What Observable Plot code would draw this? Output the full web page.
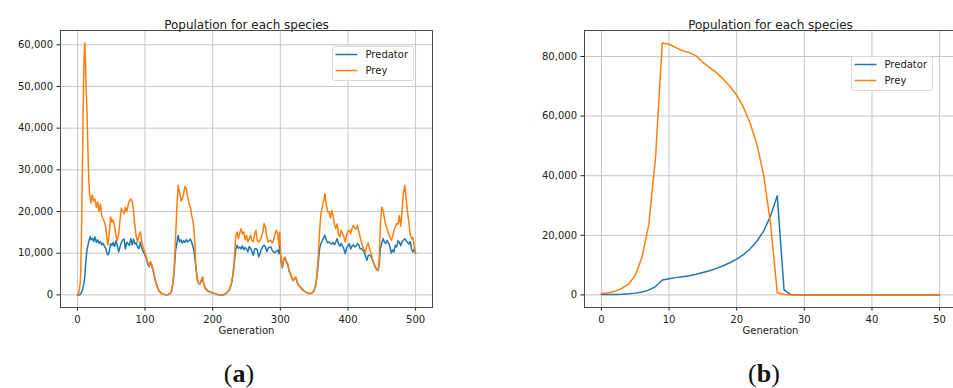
<!DOCTYPE html>
<html><head><meta charset="utf-8">
<script src="https://cdn.jsdelivr.net/npm/d3@7"></script>
<script src="https://cdn.jsdelivr.net/npm/@observablehq/plot@0.6"></script>
<style>
body{margin:0;overflow:hidden;background:#fff;font-family:"DejaVu Sans",sans-serif;}
#wrap{position:relative;width:953px;height:388px;overflow:hidden;background:#fff;}
.panel{position:absolute;top:0;}
.legend{position:absolute;}
.cap{position:absolute;width:80px;text-align:center;font-family:"Liberation Serif","Times New Roman",serif;font-size:26px;line-height:26px;color:#111;}
</style></head><body><div id="wrap"></div>
<script>
const seriesNames = ["Predator", "Prey"];
const seriesColors = ["#1f77b4", "#ff7f0e"];
const chartTitle = "Population for each species";
const xLabel = "Generation";
const captions = ["a", "b"];

// Panel (a)
const genA = [
  0,2,4,5,6,7,8,9,10,11,
  12,13,14,15,16,17,18,19,20,22,
  24,26,28,30,32,34,36,38,40,42,
  44,45,47,49,51,53,55,57,59,61,
  63,65,67,69,71,73,75,77,79,81,
  83,85,87,89,91,93,95,97,99,100,
  102,104,106,108,110,112,114,116,118,120,
  123,126,130,134,137,139,141,143,145,147,
  149,151,153,155,157,159,161,163,165,167,
  169,171,173,175,177,179,181,183,185,187,
  189,192,196,200,204,208,212,216,219,222,
  225,228,230,232,234,236,238,240,242,244,
  246,248,250,252,254,256,258,260,262,264,
  266,268,270,272,274,276,278,280,282,284,
  286,288,290,292,294,296,298,299,301,303,
  305,307,309,311,313,315,317,319,321,323,
  325,327,330,333,336,340,344,347,350,352,
  354,356,358,360,362,364,366,368,370,372,
  374,376,378,380,382,384,386,388,390,392,
  394,396,398,400,402,404,406,408,410,412,
  414,416,418,420,422,424,426,428,430,432,
  434,436,438,440,442,444,445,446,448,450,
  452,454,456,458,460,462,464,466,468,470,
  472,474,476,478,480,482,484,486,488,490,
  492,494,496,498,500
];
const preyA = [
  0,500,2500,6000,14000,26000,38000,50000,58000,60400,
  55000,49000,45000,38000,32000,27000,24000,23500,22000,24000,
  22500,23000,21000,22300,20000,21800,19000,18200,17500,16000,
  13000,12000,14500,18700,17500,18000,16500,14300,13000,14500,
  18000,20800,20000,19500,21000,20000,21500,22700,23000,22500,
  20000,16500,14000,12700,14300,15100,13000,11500,10500,10000,
  9000,7800,7000,8000,7300,6000,4500,3000,2000,1200,
  600,200,50,50,300,1000,2700,5900,13000,21000,
  26300,24700,22500,23000,24300,26000,25500,23500,21900,21100,
  19000,17500,14500,7500,4000,2800,2600,3500,4300,2500,
  1700,1100,800,500,250,50,0,50,250,700,
  1400,3000,5000,8500,13900,15100,13500,14800,15900,14600,
  15100,13200,14300,12700,13500,14300,13000,12800,14500,15500,
  13000,12700,13100,13800,15000,17100,16300,14000,12700,13000,
  13100,12500,13100,14500,15500,14800,12000,15000,8300,6700,
  8700,9100,8000,7500,5900,5100,4200,3500,4000,4300,
  3100,2400,1900,1300,900,500,300,500,1100,2300,
  4500,9000,15000,19500,21100,22500,24300,21500,20000,19900,
  18500,20300,19000,17000,15900,17000,14500,13900,15500,14800,
  13900,12700,14300,15300,15500,14700,16000,16700,16000,15800,
  16700,15200,13900,12500,11500,10700,10300,11900,12500,11000,
  10000,8700,7800,6900,6300,5900,6300,8000,17000,21100,
  20300,18300,16700,15800,14700,14000,13100,13900,15500,16300,
  17100,17000,19000,16500,20000,24500,26300,23000,20000,17500,
  14500,13500,13800,11500,9900
];
const predA = [
  0,0,100,300,600,1000,1500,2300,3100,4500,
  7000,9000,10500,11500,12200,13000,13500,14000,13200,13600,
  12800,13900,12600,13200,12400,12800,12000,12400,11700,11100,
  9800,9600,10200,12300,11800,12600,11600,13000,11900,10300,
  11500,12600,13200,13400,11000,12600,12300,11800,13500,12000,
  13400,12200,12500,11500,11100,12700,11300,10500,9800,9500,
  8700,7400,6800,7800,7000,5800,4300,2900,1900,1100,
  500,200,50,50,300,900,2500,5500,10500,12300,
  14300,12700,13200,12400,13000,12600,13300,12700,13000,13400,
  12600,11500,9800,6700,3800,2700,2600,3300,4200,2400,
  1600,1000,700,450,250,50,0,50,250,650,
  1300,2800,4800,7800,10700,11900,11200,11500,11000,11800,
  10800,11400,11000,10300,11600,11200,10400,9500,11000,11100,
  10800,9100,9900,11000,11600,11900,11500,10400,11200,11500,
  11500,10700,10300,10100,10500,10700,9900,12500,8300,6500,
  8500,8800,7800,7300,5700,5000,4100,3400,3900,4200,
  3000,2300,1800,1200,850,450,300,450,1000,2100,
  4200,7500,11000,12300,13000,13700,14300,13200,12500,12700,
  12300,12200,12600,12000,12700,13500,12200,11700,12400,11700,
  11000,9900,11200,11800,12300,11000,11700,12000,11500,11700,
  12300,12000,11100,11100,10700,10300,9200,8300,9500,9500,
  9300,8400,7600,6800,6200,5800,6100,7000,11200,12400,
  13500,12700,12300,13100,12500,11600,10000,10800,10300,11900,
  11500,13000,12600,11800,12800,13100,13500,13000,12600,12200,
  12800,11000,10300,11000,10000
];
const xTicksA = [0,100,200,300,400,500];
const yTicksA = [0,10000,20000,30000,40000,50000,60000];

// Panel (b)
const genB = [0,1,2,3,4,5,6,7,8,9,10,11,12,13,14,15,16,17,18,19,20,21,22,23,24,25,26,27,28,29,30,31,32,33,34,35,36,37,38,39,40,41,42,43,44,45,46,47,48,49,50];
const preyB = [500,700,1200,2200,3600,6500,12700,23500,46000,84500,84100,83000,81900,81300,80200,78000,76300,74600,72400,70000,67000,63000,57500,50500,40000,24000,700,150,0,0,0,0,0,0,0,0,0,0,0,0,0,0,0,0,0,0,0,0,0,0,0];
const predB = [100,100,150,200,350,600,1000,1600,2800,5000,5400,5800,6100,6400,6900,7500,8100,8900,9800,10800,12000,13500,15500,18000,21500,26500,33300,1700,100,0,0,0,0,0,0,0,0,0,0,0,0,0,0,0,0,0,0,0,0,0,0];
const xTicksB = [0,10,20,30,40,50];
const yTicksB = [0,20000,40000,60000,80000];

function panel({gens, pred, prey, xDomain, yDomain, xTicks, yTicks, width, marginLeft, marginRight}) {
  const rows = [];
  gens.forEach((g, i) => rows.push({gen: g, value: pred[i], species: seriesNames[0]}));
  gens.forEach((g, i) => rows.push({gen: g, value: prey[i], species: seriesNames[1]}));
  return Plot.plot({
    width, height: 345, marginLeft, marginRight, marginTop: 30, marginBottom: 38,
    style: {fontFamily: "'DejaVu Sans', sans-serif", fontSize: "10px", color: "#222", background: "transparent", overflow: "visible"},
    x: {domain: xDomain, ticks: xTicks, tickSize: 3.5, tickPadding: 4.5, label: null},
    y: {domain: yDomain, ticks: yTicks, tickSize: 3.5, tickPadding: 4, tickFormat: d3.format(","), label: null},
    color: {domain: seriesNames, range: seriesColors},
    marks: [
      Plot.ruleX(xTicks, {stroke: "#c6c6c6", strokeWidth: 1}),
      Plot.ruleY(yTicks, {stroke: "#c6c6c6", strokeWidth: 1}),
      Plot.line(rows, {x: "gen", y: "value", stroke: "species", z: "species", strokeWidth: 1.5}),
      Plot.frame({stroke: "#4a4a4a", strokeWidth: 1}),
      Plot.text([chartTitle], {text: d => d, frameAnchor: "top", dy: -10, fontSize: 12, fill: "#222"}),
      Plot.text([xLabel], {text: d => d, frameAnchor: "bottom", dy: 26, fontSize: 10, fill: "#222"})
    ]
  });
}

const wrap = document.getElementById("wrap");

const pA = panel({gens: genA, pred: predA, prey: preyA, xDomain: [-25, 525], yDomain: [-3020, 63420],
  xTicks: xTicksA, yTicks: yTicksA, width: 476, marginLeft: 60, marginRight: 44});
pA.classList.add("panel"); pA.style.left = "0px";
wrap.appendChild(pA);

const pB = panel({gens: genB, pred: predB, prey: preyB, xDomain: [-2.5, 52.5], yDomain: [-4225, 88725],
  xTicks: xTicksB, yTicks: yTicksB, width: 480, marginLeft: 107, marginRight: 1});
pB.classList.add("panel"); pB.style.left = "477px";
wrap.appendChild(pB);

function legend(left, top) {
  const ns = "http://www.w3.org/2000/svg";
  const svg = document.createElementNS(ns, "svg");
  svg.setAttribute("width", 82); svg.setAttribute("height", 35);
  svg.setAttribute("class", "legend");
  svg.style.left = left + "px"; svg.style.top = top + "px";
  const r = document.createElementNS(ns, "rect");
  r.setAttribute("x", 0.5); r.setAttribute("y", 0.5); r.setAttribute("width", 81); r.setAttribute("height", 34);
  r.setAttribute("rx", 2); r.setAttribute("fill", "white"); r.setAttribute("fill-opacity", 0.8);
  r.setAttribute("stroke", "#d8d8d8");
  svg.appendChild(r);
  seriesNames.forEach((name, i) => {
    const y = 8.5 + i * 16;
    const l = document.createElementNS(ns, "line");
    l.setAttribute("x1", 3.5); l.setAttribute("x2", 25.5); l.setAttribute("y1", y); l.setAttribute("y2", y);
    l.setAttribute("stroke", seriesColors[i]); l.setAttribute("stroke-width", 1.5);
    svg.appendChild(l);
    const t = document.createElementNS(ns, "text");
    t.setAttribute("x", 33.5); t.setAttribute("y", y + 3.6);
    t.setAttribute("font-size", 10); t.setAttribute("fill", "#222");
    t.setAttribute("font-family", "DejaVu Sans, sans-serif");
    t.textContent = name;
    svg.appendChild(t);
  });
  wrap.appendChild(svg);
}
legend(332, 46);
legend(851, 56);

function caption(letter, cx) {
  const d = document.createElement("div");
  d.className = "cap";
  d.style.left = (cx - 40) + "px"; d.style.top = "361px";
  d.append("(");
  const b = document.createElement("b"); b.textContent = letter; d.append(b);
  d.append(")");
  wrap.appendChild(d);
}
caption(captions[0], 239);
caption(captions[1], 764);
</script></body></html>
